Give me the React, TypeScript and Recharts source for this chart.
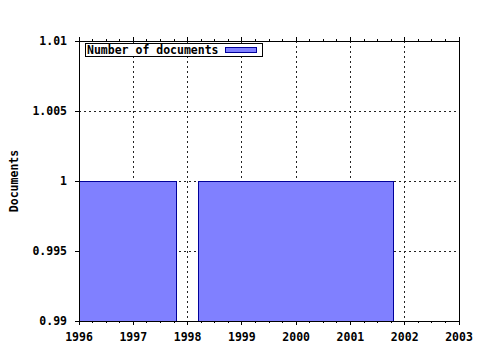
import React from 'react';
import { ComposedChart, Area, XAxis, YAxis, CartesianGrid } from 'recharts';

// ---- data ----
const yearTicks = [1996, 1997, 1998, 1999, 2000, 2001, 2002, 2003];
const yTickValues = [0.99, 0.995, 1, 1.005, 1.01];
const yTickLabels = ['0.99', '0.995', '1', '1.005', '1.01'];
const binStart = [1996, 1998.2];
const binEnd = [1997.8, 2001.8];
const docCounts = [1, 1];
const seriesName = 'Number of documents';
const yAxisTitle = 'Documents';

const X_MIN = yearTicks[0];
const X_MAX = yearTicks[yearTicks.length - 1];
const Y_MIN = yTickValues[0];
const Y_MAX = yTickValues[yTickValues.length - 1];

// minor ticks every quarter year
const xTicks: number[] = [];
for (let i = 0; i < yearTicks.length - 1; i++) {
  for (let k = 0; k < 4; k++) xTicks.push(yearTicks[i] + k * 0.25);
}
xTicks.push(X_MAX);

// step-area data built from the bins
const stepData: { x: number; y: number }[] = [];
for (let i = 0; i < binStart.length; i++) {
  stepData.push({ x: binStart[i], y: docCounts[i] });
  stepData.push({ x: binEnd[i], y: Y_MIN });
}

const FONT = '"DejaVu Sans Mono", monospace';
const FILL = '#8080ff';
const EDGE = '#00009a';

const isMajor = (v: number) => Math.abs(v - Math.round(v)) < 1e-6;

const BottomTick = (p: any) => {
  const { x, y, payload } = p;
  const v = payload.value;
  const major = isMajor(v);
  return (
    <g>
      <line x1={x} y1={y} x2={x} y2={y + (major ? 4 : 2)} stroke="#000" shapeRendering="crispEdges" />
      {major && (
        <text x={x} y={y + 20} textAnchor="middle" fontFamily={FONT} fontWeight="bold" fontSize={11.5} fill="#000">
          {Math.round(v)}
        </text>
      )}
    </g>
  );
};

const TopTick = (p: any) => {
  const { x, y, payload } = p;
  const major = isMajor(payload.value);
  return <line x1={x} y1={y} x2={x} y2={y - (major ? 4 : 2)} stroke="#000" shapeRendering="crispEdges" />;
};

const LeftTick = (p: any) => {
  const { x, y, index } = p;
  return (
    <g>
      <line x1={x} y1={y} x2={x - 4} y2={y} stroke="#000" shapeRendering="crispEdges" />
      <text x={x - 12} y={y + 4} textAnchor="end" fontFamily={FONT} fontWeight="bold" fontSize={11.5} fill="#000">
        {yTickLabels[index]}
      </text>
    </g>
  );
};

export default function App() {
  return (
    <div style={{ position: 'absolute', left: 0, top: 0, width: 480, height: 350, background: '#fff' }}>
      <ComposedChart
        width={480}
        height={350}
        data={stepData}
        margin={{ top: 0, right: 0, bottom: 0, left: 0 }}
      >
        <CartesianGrid
          stroke="#222"
          strokeDasharray="2 3"
          shapeRendering="crispEdges"
          verticalValues={yearTicks.slice(1, -1)}
          horizontalValues={yTickValues.slice(1, -1)}
        />
        <XAxis
          dataKey="x"
          type="number"
          domain={[X_MIN, X_MAX]}
          ticks={xTicks}
          interval={0}
          allowDataOverflow
          height={29}
          tickSize={0}
          tickMargin={0}
          tickLine={false}
          axisLine={{ stroke: '#000', shapeRendering: 'crispEdges' }}
          tick={<BottomTick />}
        />
        <XAxis
          xAxisId="t"
          orientation="top"
          dataKey="x"
          type="number"
          domain={[X_MIN, X_MAX]}
          ticks={xTicks}
          interval={0}
          allowDataOverflow
          height={41}
          tickSize={0}
          tickMargin={0}
          tickLine={false}
          axisLine={{ stroke: '#000', shapeRendering: 'crispEdges' }}
          tick={<TopTick />}
        />
        <YAxis
          type="number"
          domain={[Y_MIN, Y_MAX]}
          ticks={yTickValues}
          interval={0}
          allowDataOverflow
          width={79}
          tickSize={0}
          tickMargin={0}
          tickLine={false}
          axisLine={{ stroke: '#000', shapeRendering: 'crispEdges' }}
          tick={<LeftTick />}
        />
        <YAxis
          yAxisId="r"
          orientation="right"
          type="number"
          domain={[Y_MIN, Y_MAX]}
          ticks={yTickValues}
          interval={0}
          allowDataOverflow
          width={21}
          tickSize={0}
          tickMargin={0}
          tickLine={false}
          axisLine={{ stroke: '#000', shapeRendering: 'crispEdges' }}
          tick={false}
        />
        <Area
          type="stepAfter"
          dataKey="y"
          name={seriesName}
          baseValue="dataMin"
          fill={FILL}
          fillOpacity={1}
          stroke={EDGE}
          strokeWidth={1}
          shapeRendering="crispEdges"
          dot={false}
          activeDot={false}
          isAnimationActive={false}
        />
      </ComposedChart>
      <svg
        width={480}
        height={350}
        style={{ position: 'absolute', left: 0, top: 0, pointerEvents: 'none' }}
      >
        <text
          x={14}
          y={181}
          transform="rotate(-90 14 181)"
          textAnchor="middle"
          dominantBaseline="central"
          fontFamily={FONT}
          fontWeight="bold"
          fontSize={11.5}
          fill="#000"
        >
          {yAxisTitle}
        </text>
        <rect x={85.5} y={43.5} width={177} height={13} fill="#fff" stroke="#000" />
        <text x={87} y={54} fontFamily={FONT} fontWeight="bold" fontSize={11.5} fill="#000">
          {seriesName}
        </text>
        <rect x={225.5} y={47.5} width={31} height={5} fill={FILL} stroke={EDGE} />
      </svg>
    </div>
  );
}
